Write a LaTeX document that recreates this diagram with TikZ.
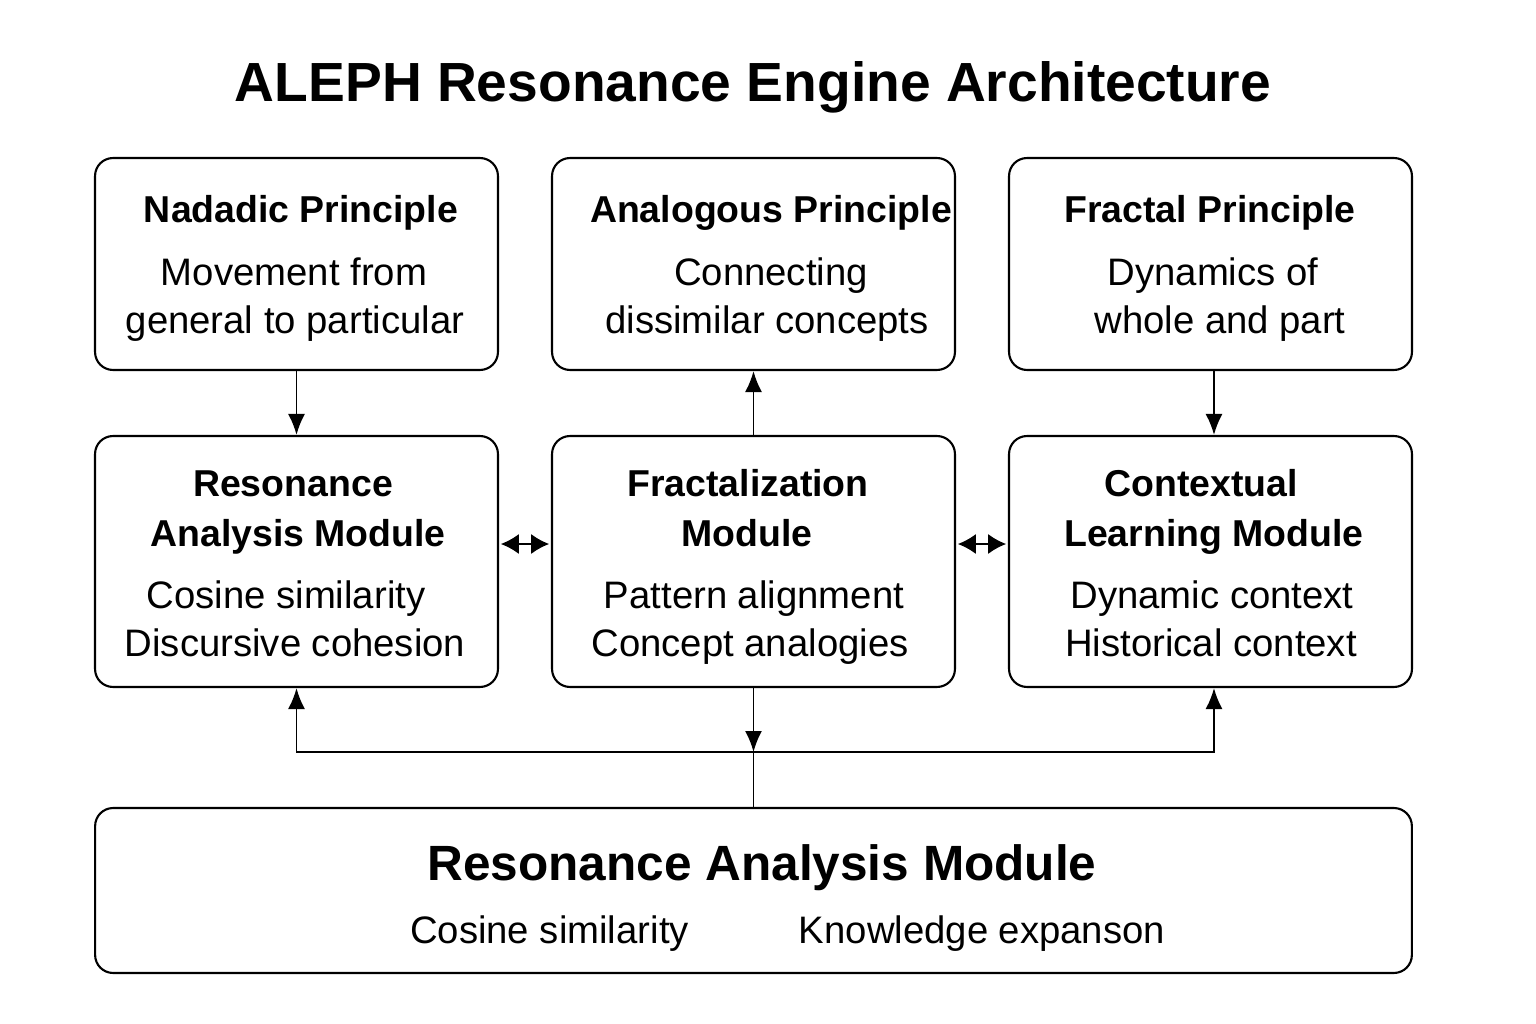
\documentclass[tikz,border=0pt]{standalone}
\usepackage{fontspec}
\setmainfont{Liberation Sans}
\usetikzlibrary{arrows.meta}
\tikzset{box/.style={draw, line width=1.2pt, rounded corners=0.36cm,
        minimum width=8.06cm, minimum height=#1},
    box/.default=4.24cm,
    head/.style={font=\bfseries\fontsize{21.3}{25}\selectfont, anchor=base, inner sep=0pt},
    body/.style={font=\fontsize{21.8}{25}\selectfont, anchor=base, inner sep=0pt},
    link/.style={line width=1.1pt, >={Latex[length=0.42cm,width=0.34cm]}, ->},
    twoway/.style={line width=1.1pt, >={Latex[length=0.36cm,width=0.4cm]}, <->}
}
\begin{document}
\begin{tikzpicture}[x=0.02cm,y=-0.02cm]
      \useasboundingbox (0,0) rectangle (1536,1024);
      \node[font=\bfseries\fontsize{31.4}{36}\selectfont, anchor=base, inner sep=0pt] (title) at (753,102) {ALEPH Resonance Engine Architecture};
      % boxes
      \node[box] (nad) at (296.5,264) {};
      \node[box] (ana) at (753.5,264) {};
      \node[box] (fra) at (1210.5,264) {};
      \node[box=5.02cm] (res) at (296.5,561.5) {};
      \node[box=5.02cm] (frm) at (753.5,561.5) {};
      \node[box=5.02cm] (ctx) at (1210.5,561.5) {};
      \node[draw, line width=1.2pt, rounded corners=0.36cm, minimum width=26.34cm, minimum height=3.3cm] (bot) at (753.5,890.5) {};
      % texts
      \node[head] (nadh) at (301,222) {Nadadic Principle};
      \node[body] (nad1) at (294,285) {Movement from};
      \node[body] (nad2) at (295,333) {general to particular};
      \node[head] (anah) at (771,222) {Analogous Principle};
      \node[body] (ana1) at (771,285) {Connecting};
      \node[body] (ana2) at (767,333) {dissimilar concepts};
      \node[head] (frah) at (1210,222) {Fractal Principle};
      \node[body] (fra1) at (1213,285) {Dynamics of};
      \node[body] (fra2) at (1220,333) {whole and part};
      \node[head] (resh1) at (293,496) {Resonance};
      \node[head] (resh2) at (298,546) {Analysis Module};
      \node[body] (res1) at (286,608) {Cosine similarity};
      \node[body] (res2) at (295,656) {Discursive cohesion};
      \node[head] (frmh1) at (748,496) {Fractalization};
      \node[head] (frmh2) at (747,546) {Module};
      \node[body] (frm1) at (754,608) {Pattern alignment};
      \node[body] (frm2) at (750,656) {Concept analogies};
      \node[head] (ctxh1) at (1201,496) {Contextual};
      \node[head] (ctxh2) at (1214,546) {Learning Module};
      \node[body] (ctx1) at (1212,608) {Dynamic context};
      \node[body] (ctx2) at (1211,656) {Historical context};
      \node[head, font=\bfseries\fontsize{28.2}{34}\selectfont] (both) at (762,880) {Resonance Analysis Module};
      \node[body] (bot1) at (549.5,943) {Cosine similarity};
      \node[body] (bot2) at (982,943) {Knowledge expanson};
      % edges
      \draw[link] (nad.south) -- (res.north);
      \draw[link] (frm.north) -- (ana.south);
      \draw[link] ([xshift=0.07cm]fra.south) -- ([xshift=0.07cm]ctx.north);
      \draw[twoway, shorten <=1pt, shorten >=1pt] ([yshift=0.35cm]res.east) -- ([yshift=0.35cm]frm.west);
      \draw[twoway, shorten <=1pt, shorten >=1pt] ([yshift=0.35cm]frm.east) -- ([yshift=0.35cm]ctx.west);
      \coordinate (hub) at (753.5,752);
      \draw[line width=1.1pt] (bot.north) -- (hub);
      \draw[link] (frm.south) -- (hub);
      \draw[link] (hub) -| (res.south);
      \draw[link] (hub) -| ([xshift=0.07cm]ctx.south);
\end{tikzpicture}
\end{document}
